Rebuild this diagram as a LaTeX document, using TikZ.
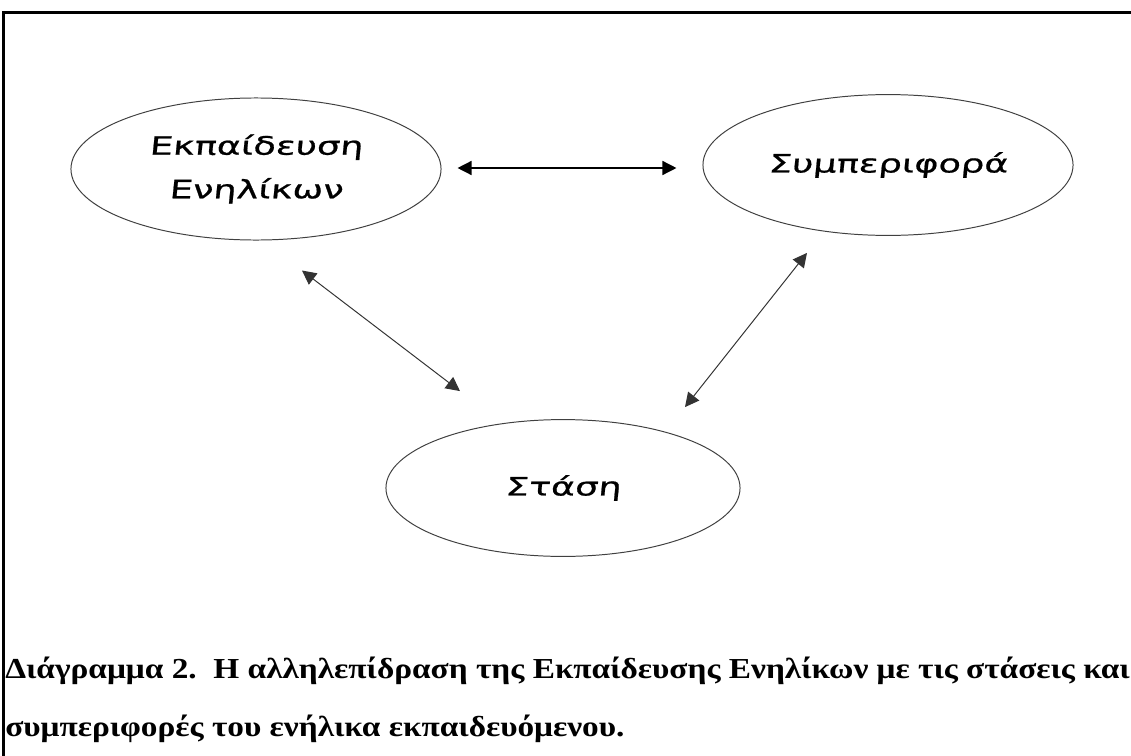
\documentclass[tikz,border=0pt]{standalone}
\usepackage{fontspec}
\setmainfont{Liberation Serif}
\newfontfamily\handfont[FakeStretch=1.45,FakeSlant=0.1,FakeBold=0.8]{DejaVu Sans}
\newfontfamily\capfont[FakeStretch=1.15]{Liberation Serif}
\usetikzlibrary{shapes.geometric,arrows.meta}

\tikzset{
  bubble/.style={ellipse,draw=black!75,line width=0.7pt,inner sep=0pt,align=center,
    font=\handfont\fontsize{18}{31}\selectfont},
  link/.style={{Triangle[length=10pt,width=10pt]}-{Triangle[length=10pt,width=10pt]},line width=0.7pt,draw=black!80},
  caption/.style={anchor=base west,inner sep=0pt,font=\capfont\bfseries\fontsize{20.6}{24}\selectfont}
}

\begin{document}
\begin{tikzpicture}[x=0.025cm,y=-0.025cm]
	\useasboundingbox (0,0) rectangle (1131,756);
	% frame
	\draw [line width=1.5pt] (3.5,756) -- (3.5,12.5) -- (1131,12.5);

	\node [bubble,minimum width=9.25cm,minimum height=3.55cm] (edu) at (256,169) {Εκπαίδευση\\Ενηλίκων};
	\node [bubble,minimum width=9.25cm,minimum height=3.52cm] (beh) at (888,165) {Συμπεριφορά};
	\node [bubble,minimum width=8.85cm,minimum height=3.42cm] (stasi) at (563,488) {Στάση};

	\draw [link,line width=1pt,draw=black] ([shift={(16,-1)}]edu.east) -- ([shift={(-26,3)}]beh.west);
	\draw [link] ([shift={(46,30)}]edu.south) -- ([shift={(-103,-28)}]stasi.north);
	\draw [link] ([shift={(-81,17)}]beh.south) -- ([shift={(122,-12)}]stasi.north);

	\node [caption] (cap1) at (5,678) {Διάγραμμα 2.\ \ Η αλληλεπίδραση της Εκπαίδευσης Ενηλίκων με τις στάσεις και};
	\node [caption] (cap2) at (5,736) {συμπεριφορές του ενήλικα εκπαιδευόμενου.};
\end{tikzpicture}
\end{document}
